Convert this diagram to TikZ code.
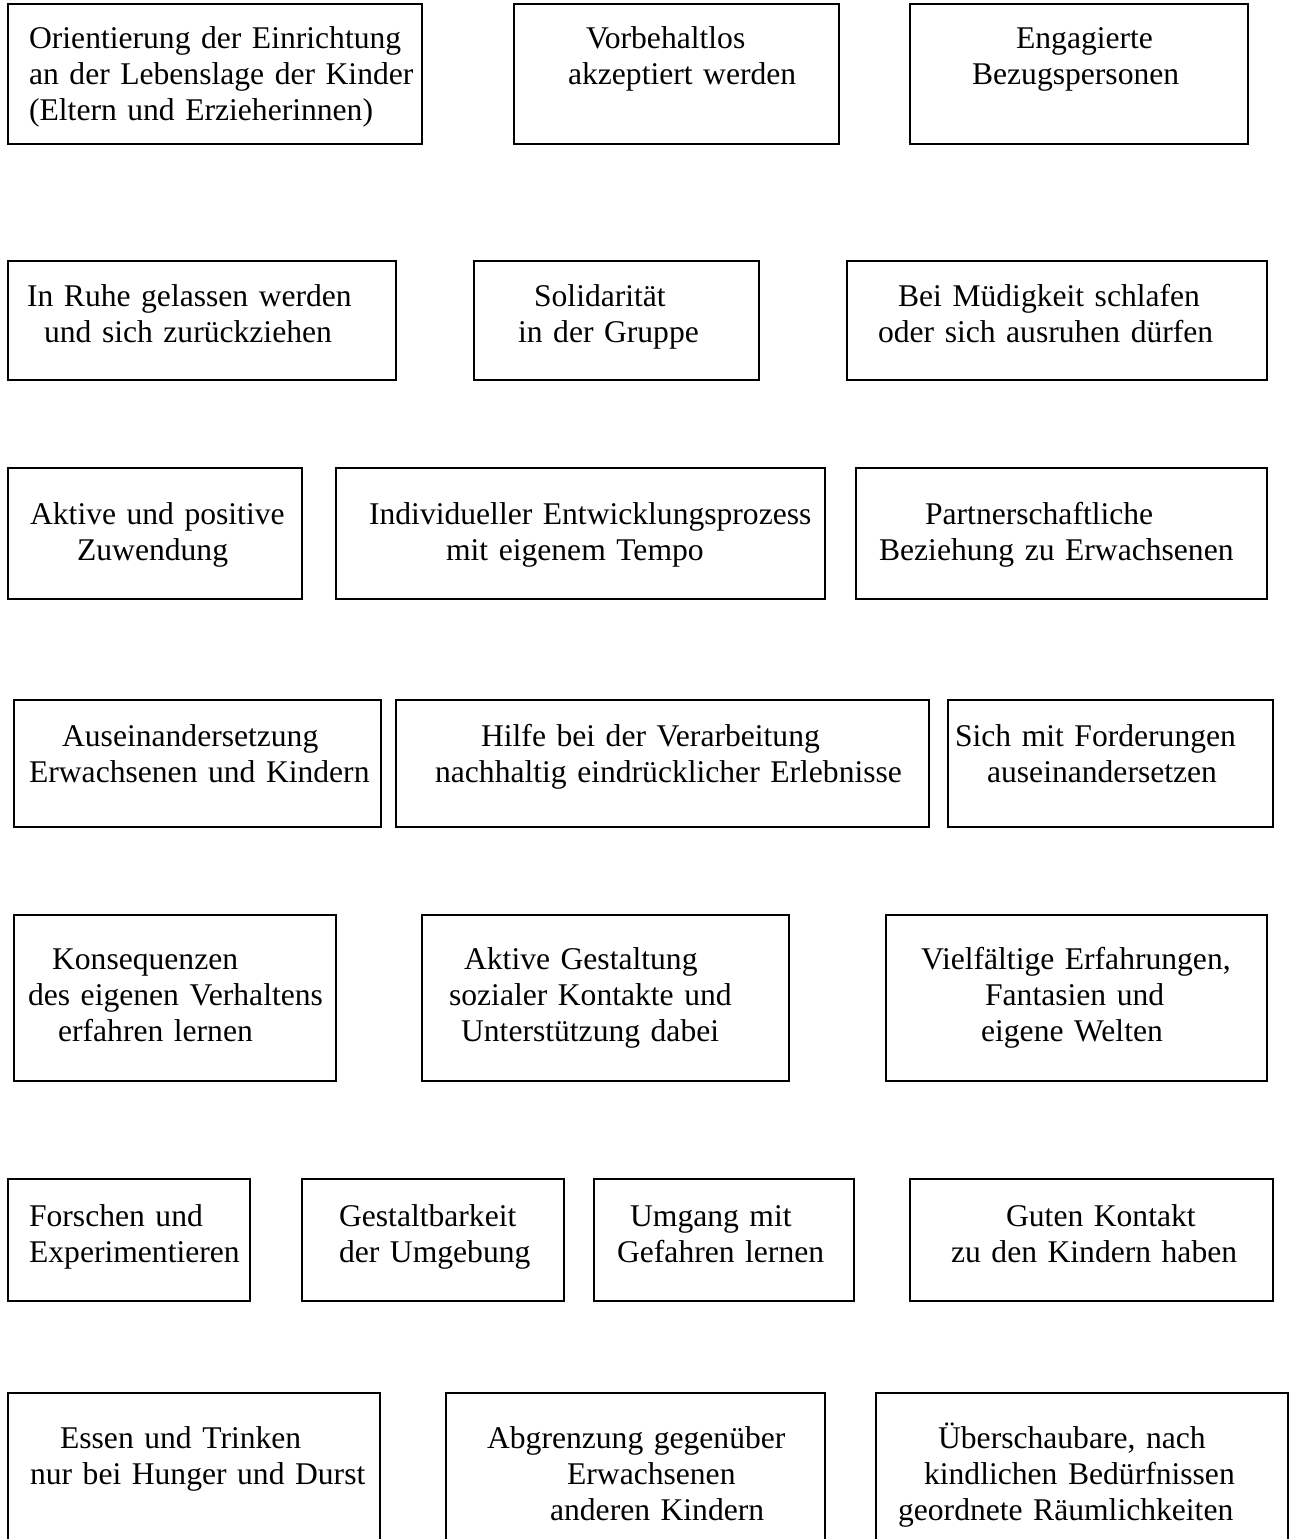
\documentclass[tikz,border=0pt]{standalone}
\usepackage{fontspec}
\setmainfont{Liberation Serif}
\hyphenpenalty=10000
\exhyphenpenalty=10000
\begin{document}
\begin{tikzpicture}[x=1pt,y=-1pt,
        kasten/.style={draw,line width=2.2pt,anchor=north west,inner sep=0pt,align=left,font={\fontsize{31.6pt}{36pt}\selectfont}}]
        \useasboundingbox[fill=white] (0,0) rectangle (1292,1539);
        \node[kasten,text width=414pt,text height=44pt,text depth=96pt] (ori) at (7,3) {\hspace*{21pt}Orientierung der Einrichtung\\\hspace*{21pt}an der Lebenslage der Kinder\\\hspace*{21pt}(Eltern und Erzieherinnen)};
        \node[kasten,text width=325pt,text height=44pt,text depth=96pt] (vor) at (513,3) {\hspace*{72pt}Vorbehaltlos\\\hspace*{54pt}akzeptiert werden};
        \node[kasten,text width=338pt,text height=44pt,text depth=96pt] (eng) at (909,3) {\hspace*{106pt}Engagierte\\\hspace*{62pt}Bezugspersonen};
        \node[kasten,text width=388pt,text height=45pt,text depth=74pt] (ruhe) at (7,260) {\hspace*{19pt}In Ruhe gelassen werden\\\hspace*{36pt}und sich zurückziehen};
        \node[kasten,text width=285pt,text height=45pt,text depth=74pt] (soli) at (473,260) {\hspace*{60pt}Solidarität\\\hspace*{44pt}in der Gruppe};
        \node[kasten,text width=420pt,text height=45pt,text depth=74pt] (muede) at (846,260) {\hspace*{51pt}Bei Müdigkeit schlafen\\\hspace*{31pt}oder sich ausruhen dürfen};
        \node[kasten,text width=294pt,text height=56pt,text depth=75pt] (zuwend) at (7,467) {\hspace*{22pt}Aktive und positive\\\hspace*{69pt}Zuwendung};
        \node[kasten,text width=489pt,text height=56pt,text depth=75pt] (entw) at (335,467) {\hspace*{33pt}Individueller Entwicklungsprozess\\\hspace*{110pt}mit eigenem Tempo};
        \node[kasten,text width=411pt,text height=56pt,text depth=75pt] (partner) at (855,467) {\hspace*{69pt}Partnerschaftliche\\\hspace*{23pt}Beziehung zu Erwachsenen};
        \node[kasten,text width=367pt,text height=46pt,text depth=81pt] (ausein) at (13,699) {\hspace*{48pt}Auseinandersetzung\\\hspace*{15pt}Erwachsenen und Kindern};
        \node[kasten,text width=533pt,text height=46pt,text depth=81pt] (hilfe) at (395,699) {\hspace*{85pt}Hilfe bei der Verarbeitung\\\hspace*{39pt}nachhaltig eindrücklicher Erlebnisse};
        \node[kasten,text width=325pt,text height=46pt,text depth=81pt] (ford) at (947,699) {\hspace*{7pt}Sich mit Forderungen\\\hspace*{39pt}auseinandersetzen};
        \node[kasten,text width=322pt,text height=54pt,text depth=112pt] (konseq) at (13,914) {\hspace*{38pt}Konsequenzen\\\hspace*{14pt}des eigenen Verhaltens\\\hspace*{44pt}erfahren lernen};
        \node[kasten,text width=367pt,text height=54pt,text depth=112pt] (gestalt) at (421,914) {\hspace*{42pt}Aktive Gestaltung\\\hspace*{27pt}sozialer Kontakte und\\\hspace*{39pt}Unterstützung dabei};
        \node[kasten,text width=381pt,text height=54pt,text depth=112pt] (vielf) at (885,914) {\hspace*{35pt}Vielfältige Erfahrungen,\\\hspace*{99pt}Fantasien und\\\hspace*{95pt}eigene Welten};
        \node[kasten,text width=242pt,text height=47pt,text depth=75pt] (forsch) at (7,1178) {\hspace*{21pt}Forschen und\\\hspace*{21pt}Experimentieren};
        \node[kasten,text width=262pt,text height=47pt,text depth=75pt] (gestbar) at (301,1178) {\hspace*{37pt}Gestaltbarkeit\\\hspace*{37pt}der Umgebung};
        \node[kasten,text width=260pt,text height=47pt,text depth=75pt] (gefahr) at (593,1178) {\hspace*{36pt}Umgang mit\\\hspace*{23pt}Gefahren lernen};
        \node[kasten,text width=363pt,text height=47pt,text depth=75pt] (kontakt) at (909,1178) {\hspace*{96pt}Guten Kontakt\\\hspace*{41pt}zu den Kindern haben};
        \node[kasten,text width=372pt,text height=55pt,text depth=120pt] (essen) at (7,1392) {\hspace*{52pt}Essen und Trinken\\\hspace*{22pt}nur bei Hunger und Durst};
        \node[kasten,text width=379pt,text height=55pt,text depth=120pt] (abgrenz) at (445,1392) {\hspace*{41pt}Abgrenzung gegenüber\\\hspace*{121pt}Erwachsenen\\\hspace*{104pt}anderen Kindern};
        \node[kasten,text width=412pt,text height=55pt,text depth=120pt] (raum) at (875,1392) {\hspace*{62pt}Überschaubare, nach\\\hspace*{48pt}kindlichen Bedürfnissen\\\hspace*{22pt}geordnete Räumlichkeiten};
    \end{tikzpicture}
\end{document}
